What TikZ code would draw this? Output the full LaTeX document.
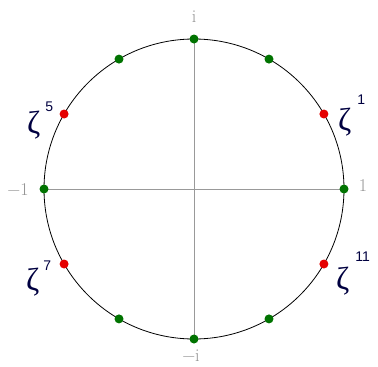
\documentclass[tikz,border=0pt]{standalone}
\usepackage{fontspec}
\usetikzlibrary{calc}
\setmainfont{Latin Modern Roman}
\newfontfamily\zfont{Liberation Serif}
\newfontfamily\sfnum{Liberation Sans}
\newcommand{\zlabel}[3]{{\zfont\fontsize{32}{32}\selectfont ζ}\kern#2pt\raisebox{#3pt}{\sfnum\fontsize{14}{14}\selectfont #1}}
\begin{document}
\begin{tikzpicture}[x=1pt,y=-1pt,
  gdot/.style={circle,fill=green!45!black,inner sep=0pt,minimum size=9pt},
  rdot/.style={circle,fill=red!90!black,inner sep=0pt,minimum size=9pt},
  axlab/.style={text=gray!85,font=\fontsize{18}{18}\selectfont,inner sep=0pt},
  zlab/.style={text=black!75!blue,inner sep=0pt,anchor=base west}]
\useasboundingbox (0,0) rectangle (378,367);
\coordinate (O) at (194,189);
\coordinate (E) at (344,189);
\coordinate (W) at (44,189);
\coordinate (N) at (194,39);
\coordinate (S) at (194,339);
\draw[gray!80,line width=0.8pt] (W) -- (E);
\draw[gray!80,line width=0.8pt] (N) -- (S);
\draw[black,line width=0.8pt] (O) circle[radius=150];
\foreach \a/\n in {0/p0,60/p2,90/p3,120/p4,180/p6,240/p8,270/p9,300/p10}
  \node[gdot] (\n) at ($(O)+(\a:150pt)$) {};
\foreach \a/\n in {30/p1,150/p5,210/p7,330/p11}
  \node[rdot] (\n) at ($(O)+(\a:150pt)$) {};
\node[axlab] (li) at (194,17) {i};
\node[axlab] (lmi) at (191,356) {−i};
\node[axlab] (lm1) at (18,190) {−1};
\node[axlab] (l1) at (363,186) {1};
\node[zlab] (z1) at (338,130) {\zlabel{1}{6}{26}};
\node[zlab] (z5) at (27,133) {\zlabel{5}{5}{22}};
\node[zlab] (z7) at (26,290) {\zlabel{7}{4}{20}};
\node[zlab] (z11) at (336,289) {\zlabel{11}{6}{28}};
\end{tikzpicture}
\end{document}
